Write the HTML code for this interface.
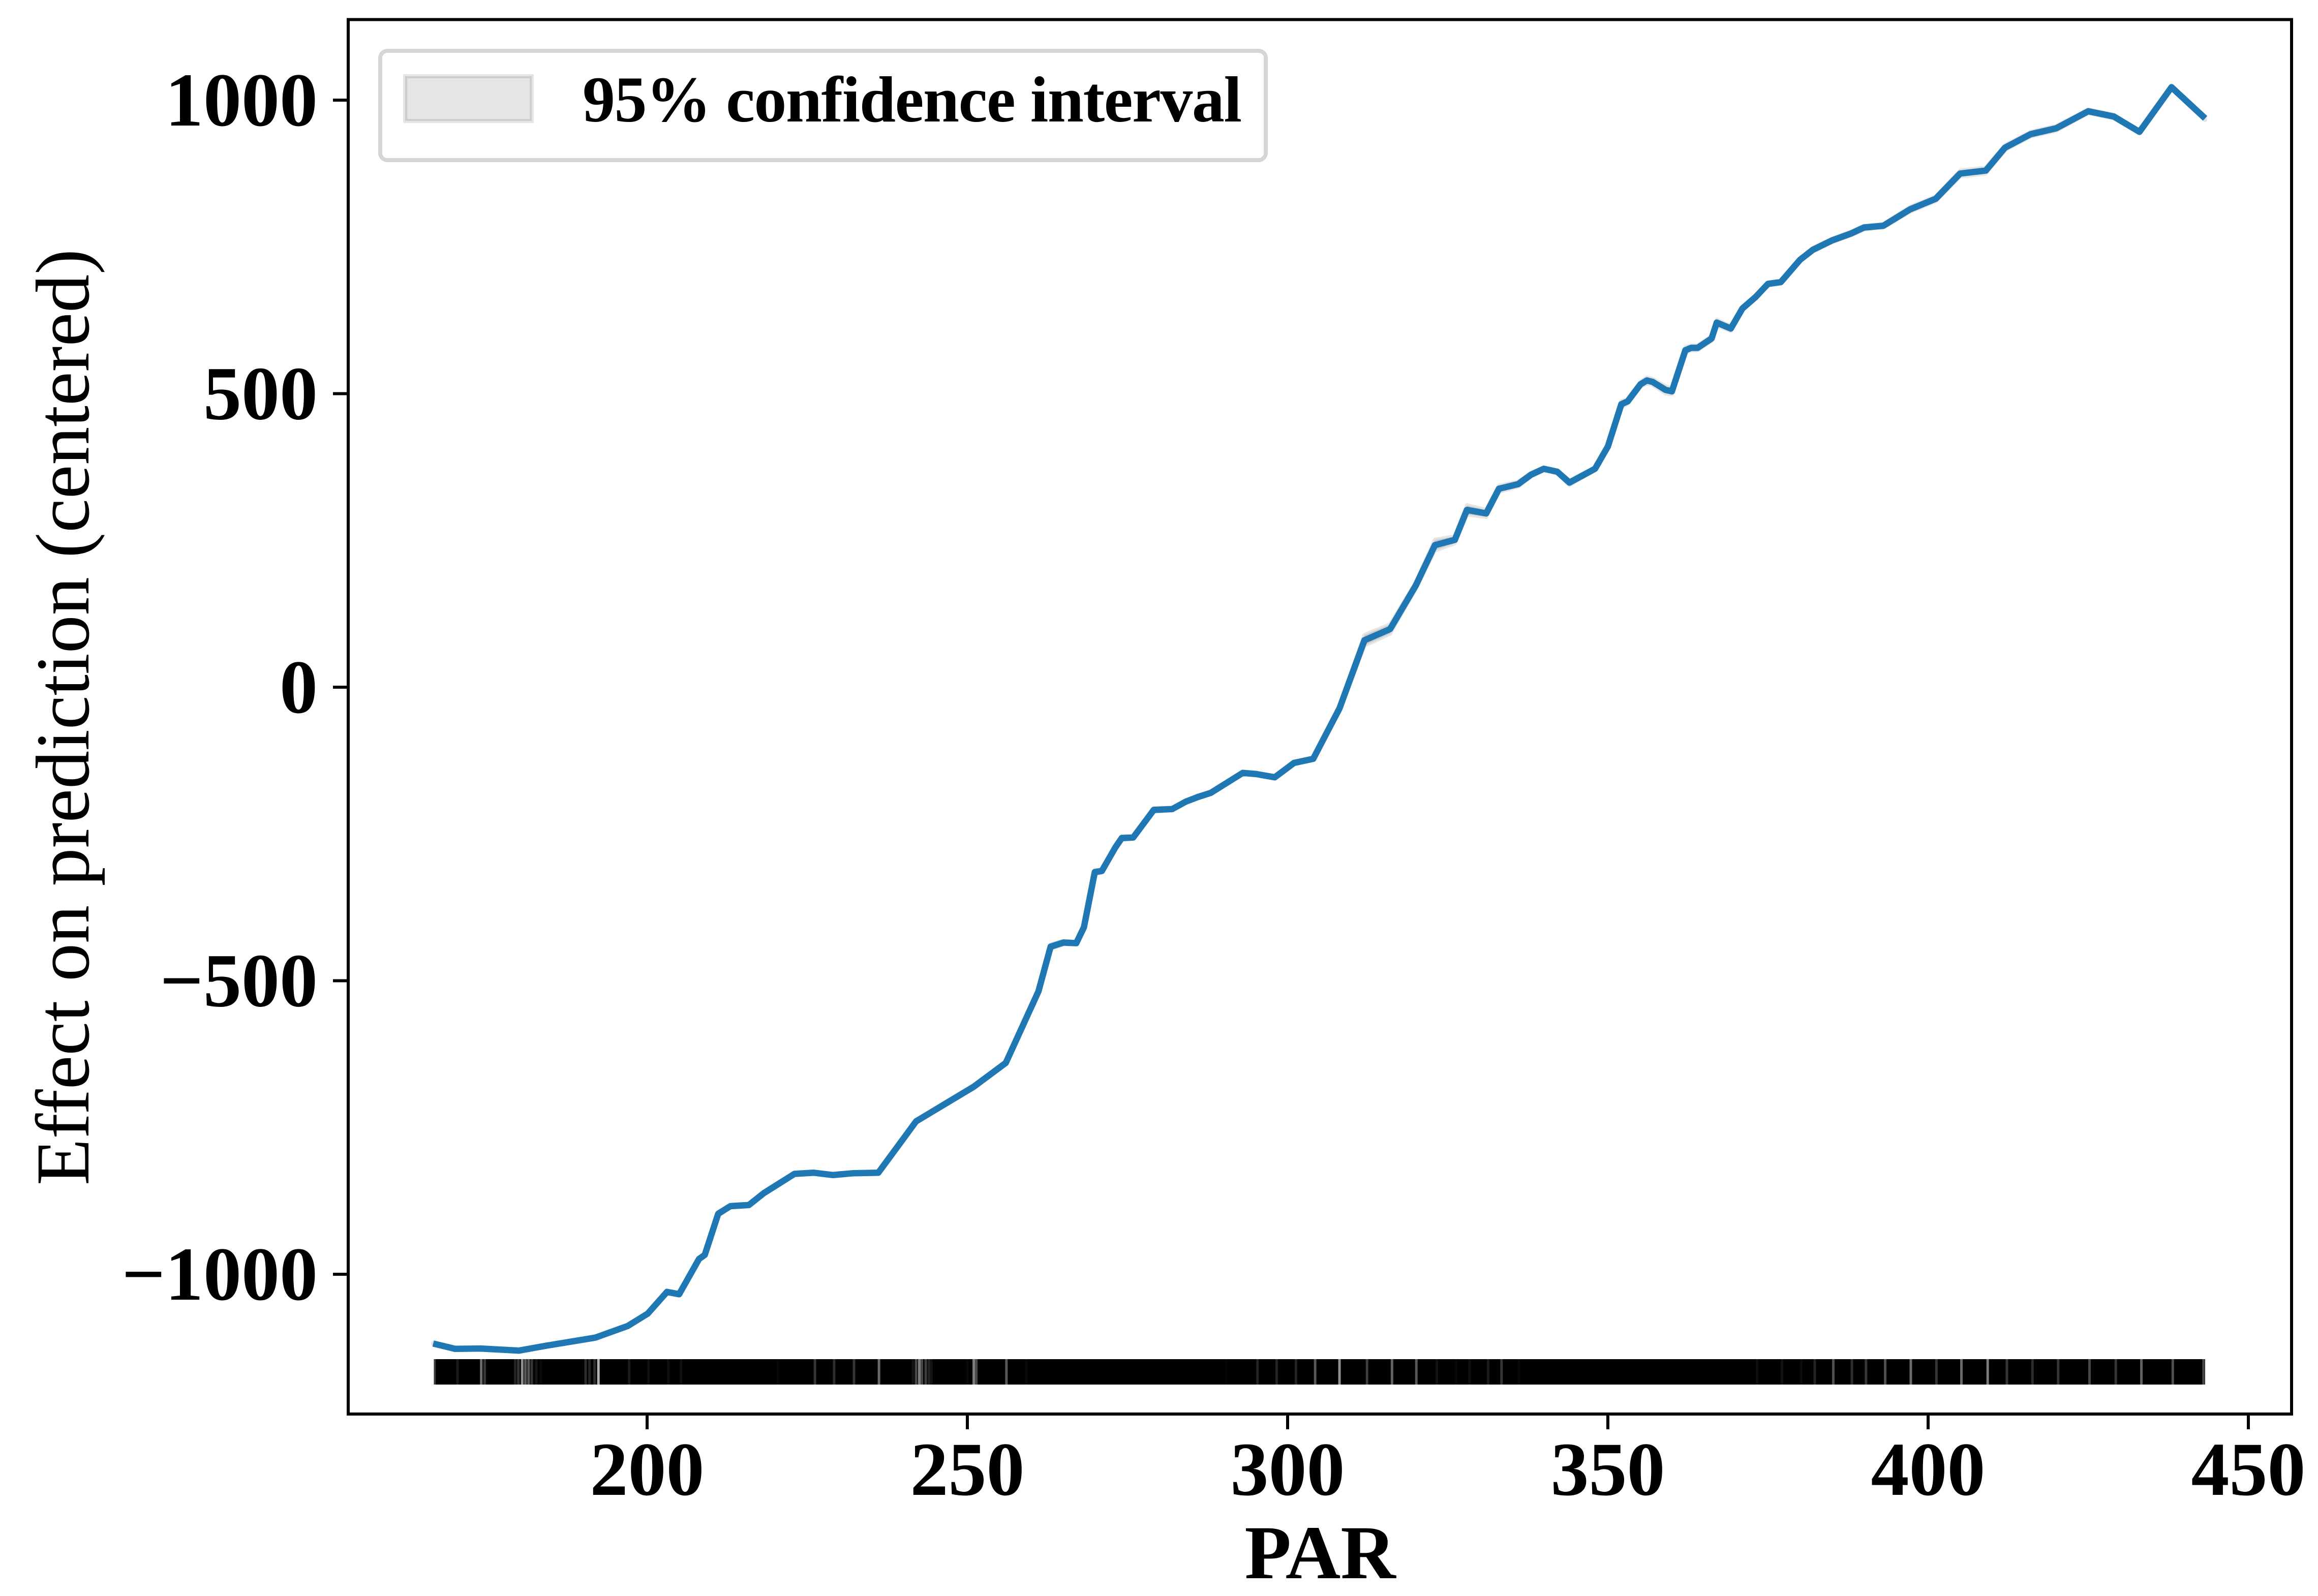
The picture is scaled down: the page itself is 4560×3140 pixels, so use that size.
<!DOCTYPE html>
<html lang="en">
<head>
<meta charset="utf-8">
<title>Partial dependence of PAR</title>
<style>
html,body{margin:0;padding:0;background:#fff;}
svg{display:block;}
text{font-family:"Liberation Serif","Times New Roman",serif;fill:#000;}
.tick-label{font-size:150px;font-weight:700;}
</style>
</head>
<body>
<svg id="chart" xmlns="http://www.w3.org/2000/svg" width="4560" height="3140" viewBox="0 0 4560 3140">
  <rect x="0" y="0" width="4560" height="3140" fill="#fff"/>
  <g id="band-layer"></g>
  <g id="rug-layer"></g>
  <g id="line-layer"></g>
  <rect x="685" y="38.5" width="3823" height="2743.5" fill="none" stroke="#000" stroke-width="6"/>
  <g id="x-axis"></g>
  <g id="y-axis"></g>
  <text x="2597" y="3105" text-anchor="middle" font-size="150" font-weight="700">PAR</text>
  <text transform="translate(174 1411) rotate(-90)" text-anchor="middle" font-size="150">Effect on prediction (centered)</text>
  <g>
    <rect x="748" y="100" width="1742" height="215" rx="14" ry="14" fill="#fff" stroke="#d5d5d5" stroke-width="8"/>
    <rect x="797" y="150" width="249" height="88" fill="#000" fill-opacity="0.1" stroke="#000" stroke-opacity="0.1" stroke-width="8"/>
    <text x="1146" y="239" font-size="128" font-weight="700" textLength="1297" lengthAdjust="spacing">95% confidence interval</text>
  </g>
</svg>
<script>
const parValues = [
  166.6,170,174,180,184.1,191.9,197,200.1,203.1,205,
  208.1,209,211.1,213,215.9,218.2,223,226,229,232.1,
  236.1,242,251,256,261.1,263,265,267,268.2,269.9,
  271,273.1,274.1,275.9,279.1,282,284.1,286,288,293,
  295.1,298,301,304,308.1,312,316,320,323,326.1,
  328,331,333,336,338,340,342.1,344,348,350,
  352.1,353.1,355.1,356.1,357,359,360,362.1,363,364,
  366.2,367,369.2,371,373.1,375,377,380,382,385,
  388,390,393,397.2,401.2,405,409,412,416,420,
  425,429,433,438,443.25
];
const effectValues = [
  -1118,-1127,-1126.5,-1130,-1122,-1108,-1088,-1067,-1030,-1034,
  -974,-967,-897,-884,-882,-862,-829,-827,-831,-828,
  -827,-739.5,-680.5,-640,-518,-442,-435,-436,-409,-315,
  -313,-273,-257,-256,-209,-207.5,-195,-187,-180,-146,
  -148,-153.5,-129,-122,-36,80,99,173,242,251,
  302,296,338,346,362,372,367,348.5,372,410,
  482,487,516,522.5,520,506.5,504,574,578,578,
  594,621,611,645,665,687,690,728,745,761,
  773,783,786,814,832,875,880,919,942,952,
  981,972,946,1022,969
];
const ciHalfWidths = [
  1,1,1,1,1,1,1,1,2,2,
  2,2,3,2,2,2,2,1,1,1,
  1,2,3,2,2,4,3,2,2,4,
  3,2,3,2,3,2,2,2,2,2,
  2,2,2,2,5,9,8,5,9,6,
  8,6,5,4,3,2,2,4,2,3,
  5,4,4,5,5,6,5,5,4,4,
  4,5,4,3,3,2,2,2,3,3,
  3,3,3,4,4,5,5,4,4,4,
  3,3,2,3,3
];
const xTickValues = [200,250,300,350,400,450];
const xTickLabels = ["200","250","300","350","400","450"];
const yTickValues = [-1000,-500,0,500,1000];
const yTickLabels = ["\u22121000","\u2212500","0","500","1000"];
const rugRange = [166.7,443.25];
const rugGapValues = [
  166.8,170.4,174.1,174.65,179.4,179.9,180.5,181,181.5,182,182.7,183.4,
  190.4,191,191.8,192.4,197.2,200.2,203.3,205.3,220.4,
  226.2,229.2,232.3,236.2,241.5,242,242.5,242.9,243.5,244,244.4,250,251,251.4,256.1,259.2,
  290.4,295.3,298.3,301.3,304.3,308.1,312.4,316.3,320.1,323.3,326.3,328.4,331.3,
  333.4,336.1,373.3,377.2,380.2,382.3,385.2,388.1,
  390.3,393.3,397.3,401.3,405.2,409.3,412.3,416.3,420.3,425.2,429.3,433.3,438.2,443
];
const rugGapLevels = [
  0.35,0.15,0.6,0.3,0.2,0.3,0.8,0.5,0.5,0.3,0.12,0.05,
  0.25,0.2,0.25,1,0.15,0.08,0.08,0.08,0.04,
  0.3,0.25,0.3,0.6,0.1,0.4,0.7,0.4,0.35,0.2,0.1,0.05,0.7,0.4,0.5,0.05,
  0.03,0.2,0.2,0.2,0.5,0.8,0.35,0.55,0.5,0.1,0.04,0.08,0.15,
  0.3,0.05,0.08,0.1,0.06,0.2,0.45,0.25,
  0.3,0.45,0.6,0.3,0.6,0.7,0.3,0.25,0.3,0.4,0.3,0.55,0.45,0.4
];

const NS = 'http://www.w3.org/2000/svg';
const xScale = v => 1273 + (v - 200) * 12.6;
const yScale = v => 1352 - v * 1.155;
const RUG_TOP = 2674, RUG_BOTTOM = 2724, FRAME_LEFT = 685, FRAME_BOTTOM = 2782;

function make(tag, attrs, parent) {
  const el = document.createElementNS(NS, tag);
  for (const k in attrs) el.setAttribute(k, attrs[k]);
  parent.appendChild(el);
  return el;
}

const bandLayer = document.getElementById('band-layer');
const upperPts = parValues.map((p, i) => xScale(p).toFixed(1) + ',' + yScale(effectValues[i] + ciHalfWidths[i]).toFixed(1));
const lowerPts = parValues.map((p, i) => xScale(p).toFixed(1) + ',' + yScale(effectValues[i] - ciHalfWidths[i]).toFixed(1)).reverse();
const band = make('polygon', {points: upperPts.concat(lowerPts).join(' '), fill: '#000', 'fill-opacity': 0.1, stroke: '#000', 'stroke-opacity': 0.1, 'stroke-width': 8, 'stroke-linejoin': 'round'}, bandLayer);



const rugLayer = document.getElementById('rug-layer');
const rugBase = make('rect', {x: xScale(rugRange[0]), y: RUG_TOP, width: xScale(rugRange[1]) - xScale(rugRange[0]), height: RUG_BOTTOM - RUG_TOP, fill: '#000'}, rugLayer);


rugGapValues.forEach((g, i) => {
  const gx = xScale(g);
  const gap = make('line', {x1: gx, x2: gx, y1: RUG_TOP, y2: RUG_BOTTOM, stroke: '#fff', 'stroke-opacity': rugGapLevels[i] * 0.7, 'stroke-width': 5}, rugLayer);
  
  
});

const lineLayer = document.getElementById('line-layer');
const effectLine = make('polyline', {points: parValues.map((p, i) => xScale(p).toFixed(1) + ',' + yScale(effectValues[i]).toFixed(1)).join(' '), fill: 'none', stroke: '#1f77b4', 'stroke-width': 12.5, 'stroke-linejoin': 'round', 'stroke-linecap': 'butt'}, lineLayer);



const xAxis = document.getElementById('x-axis');
xTickValues.forEach((v, i) => {
  const tx = xScale(v);
  const tick = make('line', {x1: tx, x2: tx, y1: FRAME_BOTTOM, y2: FRAME_BOTTOM + 30, stroke: '#000', 'stroke-width': 6}, xAxis);
  
  
  const label = make('text', {x: tx, y: 2941, 'text-anchor': 'middle', class: 'tick-label'}, xAxis);
  
  
  label.textContent = xTickLabels[i];
});

const yAxis = document.getElementById('y-axis');
yTickValues.forEach((v, i) => {
  const ty = yScale(v);
  const tick = make('line', {x1: FRAME_LEFT - 30, x2: FRAME_LEFT, y1: ty, y2: ty, stroke: '#000', 'stroke-width': 6}, yAxis);
  
  
  const label = make('text', {x: 625, y: ty + 50, 'text-anchor': 'end', class: 'tick-label'}, yAxis);
  
  
  label.textContent = yTickLabels[i];
});
</script>
</body>
</html>
